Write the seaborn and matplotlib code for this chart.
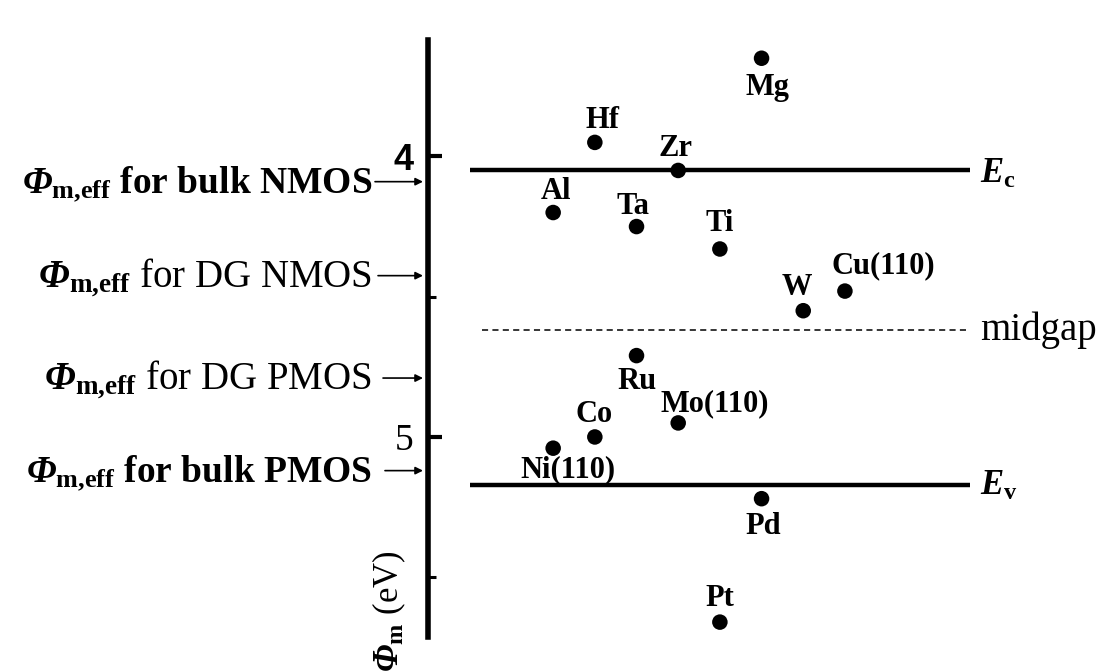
import matplotlib

matplotlib.use("Agg")
import matplotlib.pyplot as plt
import pandas as pd
import seaborn as sns

# Metal work functions (eV) placed in columns
metals = ["Al", "Ni(110)", "Hf", "Co", "Ta", "Ru", "Zr", "Mo(110)",
          "Ti", "Pt", "Mg", "Pd", "W", "Cu(110)"]
column = [1, 1, 2, 2, 3, 3, 4, 4, 5, 5, 6, 6, 7, 8]
work_function = [4.20, 5.04, 3.95, 5.00, 4.25, 4.71, 4.05, 4.95,
                 4.33, 5.66, 3.65, 5.22, 4.55, 4.48]

# Reference levels of silicon
level_names = ["Ec", "midgap", "Ev"]
level_values = [4.05, 4.62, 5.17]

# Target effective work functions
target_names = ["bulk NMOS", "DG NMOS", "DG PMOS", "bulk PMOS"]
target_values = [4.09, 4.425, 4.79, 5.12]
target_bold = [True, False, False, True]

y_major = [4, 5]
y_minor = [4.5, 5.5]
y_tick_labels = ["4", "5"]


def main():
    sns.set_theme(style="white")
    plt.rcParams["font.family"] = ["Liberation Serif", "DejaVu Serif"]
    plt.rcParams["text.color"] = "black"
    plt.rcParams["mathtext.fontset"] = "custom"
    plt.rcParams["mathtext.rm"] = "Liberation Serif:italic:bold"
    plt.rcParams["mathtext.bf"] = "Liberation Serif:bold"
    plt.rcParams["mathtext.it"] = "Liberation Serif:italic"

    df = pd.DataFrame({"metal": metals, "column": column, "phi": work_function})

    fig = plt.figure(figsize=(11.1, 6.72), dpi=100)
    fig.patch.set_facecolor("white")
    ax = fig.add_axes([427.7 / 1110, 35.3 / 672, 682.3 / 1110, 596.7 / 672])
    ax.set_facecolor("white")

    sns.scatterplot(data=df, x="column", y="phi", color="black", s=125,
                    edgecolor="none", legend=False, ax=ax, zorder=5)

    ax.set_xlim(-2.01, 14.36)
    ax.set_ylim(5.712, 3.585)

    # Point labels (offsets in pixels)
    offsets = {
        "Al": (3, 14, "center"), "Ni(110)": (15, -29, "center"),
        "Hf": (8, 14, "center"), "Co": (-1, 15, "center"),
        "Ta": (-4, 13, "center"), "Ru": (0, -33, "center"),
        "Zr": (-3, 14, "center"), "Mo(110)": (-18, 12, "left"),
        "Ti": (0, 18, "center"), "Pt": (0, 16, "center"),
        "Mg": (6, -37, "center"), "Pd": (2, -35, "center"),
        "W": (-6, 16, "center"), "Cu(110)": (-13, 18, "left"),
    }
    for name, cx, cy in zip(metals, column, work_function):
        dx, dy, ha = offsets[name]
        ax.annotate(name, xy=(cx, cy), xytext=(dx, dy),
                    textcoords="offset pixels", ha=ha, va="baseline",
                    fontsize=22, fontweight="bold", color="black")

    # Band edges and midgap
    ax.hlines(level_values[0], -1.0, 11.0, color="black", lw=3.2)
    ax.hlines(level_values[2], -1.0, 11.0, color="black", lw=3.2)
    ax.hlines(level_values[1], -0.7, 11.0, color="black", lw=1.1,
              linestyles=(0, (4.0, 2.8)))
    ax.annotate(r"$\mathrm{E}_{\mathbf{c}}$", xy=(11.24, level_values[0]),
                xytext=(0, -12), textcoords="offset pixels",
                ha="left", va="baseline", fontsize=25, color="black")
    ax.annotate("midgap", xy=(11.24, level_values[1]), xytext=(0, -10),
                textcoords="offset pixels", ha="left", va="baseline",
                fontsize=28, color="black")
    ax.annotate(r"$\mathrm{E}_{\mathbf{v}}$", xy=(11.24, level_values[2]),
                xytext=(0, -10), textcoords="offset pixels",
                ha="left", va="baseline", fontsize=25, color="black")

    # Target work function labels with arrows to the axis
    trans = ax.get_yaxis_transform()
    arrow_start = [-0.0772, -0.0728, -0.0655, -0.0626]
    for name, val, bold, xs in zip(target_names, target_values, target_bold,
                                   arrow_start):
        ax.annotate("", xy=(-0.0069, val), xytext=(xs, val),
                    xycoords=trans, textcoords=trans, annotation_clip=False,
                    arrowprops=dict(arrowstyle="-|>", color="black", lw=1.2,
                                    mutation_scale=11, shrinkA=0, shrinkB=0))
        ax.annotate(r"$\mathrm{\Phi}_{\mathbf{m{,}eff}}$" + " for " + name,
                    xy=(-0.0815, val), xycoords=trans, xytext=(0, -11),
                    textcoords="offset pixels", ha="right", va="baseline",
                    fontsize=27 if bold else 28,
                    fontweight="bold" if bold else "normal",
                    color="black", annotation_clip=False)

    # Axis styling
    for side in ["top", "right", "bottom"]:
        ax.spines[side].set_visible(False)
    ax.spines["left"].set_linewidth(4)
    ax.spines["left"].set_color("black")
    ax.set_xticks([])
    ax.set_yticks(y_major)
    ax.set_yticks(y_minor, minor=True)
    ax.set_yticklabels(y_tick_labels)
    ax.tick_params(axis="y", which="major", direction="in", length=10,
                   width=3, pad=10, colors="black", left=True)
    ax.tick_params(axis="y", which="minor", direction="in", length=6,
                   width=2.2, colors="black", left=True)
    labels = ax.get_yticklabels()
    labels[0].set_fontfamily("Liberation Sans")
    labels[0].set_fontweight("bold")
    labels[0].set_fontsize(26)
    labels[1].set_fontfamily("Liberation Serif")
    labels[1].set_fontsize(27)
    ax.set_xlabel("")
    ax.set_ylabel("")
    ax.grid(False)

    fig.text(389 / 1110, 1 - 611 / 672, r"$\mathrm{\Phi}_{\mathbf{m}}$ (eV)",
             rotation=90, ha="center", va="center", fontsize=25,
             color="black")

    fig.savefig("out.png", dpi=100, facecolor="white")


if __name__ == "__main__":
    main()
